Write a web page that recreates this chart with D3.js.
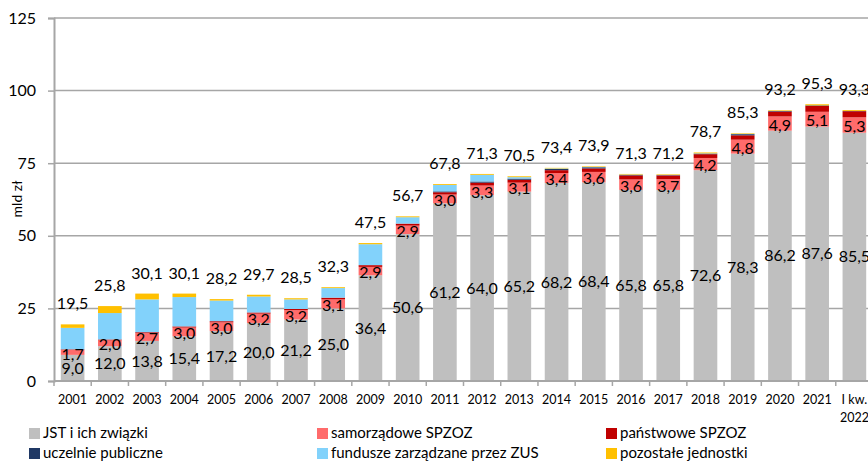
<!DOCTYPE html>
<html>
<head>
<meta charset="utf-8">
<script src="https://cdn.jsdelivr.net/npm/d3@7"></script>
<style>
  html, body { margin: 0; padding: 0; background: #fff; }
  #chart { width: 868px; height: 461px; }
  text { font-family: Lato, "Open Sans", sans-serif; fill: #000; }
</style>
</head>
<body>
<div id="chart"><svg></svg></div>
<script>
// kategorie (lata)
var categories = ["2001","2002","2003","2004","2005","2006","2007","2008","2009","2010",
  "2011","2012","2013","2014","2015","2016","2017","2018","2019","2020","2021","I kw.\n2022"];

// serie (mld zł)
var jst        = [9.0,12.0,13.8,15.4,17.2,20.0,21.2,25.0,36.4,50.6,61.2,64.0,65.2,68.2,68.4,65.8,65.8,72.6,78.3,86.2,87.6,85.5];
var samorzad   = [1.7,2.0,2.7,3.0,3.0,3.2,3.2,3.1,2.9,2.9,3.0,3.3,3.1,3.4,3.6,3.6,3.7,4.2,4.8,4.9,5.1,5.3];
var panstwowe  = [0.2,0.3,0.3,0.4,0.4,0.4,0.4,0.6,0.6,0.7,0.8,1.0,1.0,1.0,1.2,1.4,1.3,1.3,1.5,1.7,2.0,2.1];
var uczelnie   = [0,0,0,0,0,0,0,0,0,0,0.3,0.4,0.4,0.4,0.4,0.2,0.1,0.2,0.4,0.2,0.2,0.1];
var zus        = [7.4,9.1,11.3,10.1,7.1,5.5,3.3,3.3,7.2,2.2,2.2,2.3,0.5,0.2,0.1,0.1,0.1,0.1,0.1,0.0,0.0,0.0];
var pozostale  = [1.2,2.4,2.0,1.2,0.5,0.6,0.4,0.3,0.4,0.3,0.3,0.3,0.3,0.2,0.2,0.2,0.2,0.3,0.2,0.2,0.4,0.3];
var totals     = [19.5,25.8,30.1,30.1,28.2,29.7,28.5,32.3,47.5,56.7,67.8,71.3,70.5,73.4,73.9,71.3,71.2,78.7,85.3,93.2,95.3,93.3];
var yTicks     = [0,25,50,75,100,125];

var seriesNames  = ["JST i ich związki","samorządowe SPZOZ","państwowe SPZOZ","uczelnie publiczne","fundusze zarządzane przez ZUS","pozostałe jednostki"];
var seriesColors = ["#bfbfbf","#ff6b6b","#c00000","#1f3864","#82d2fb","#ffc000"];
var seriesData   = [jst, samorzad, panstwowe, uczelnie, zus, pozostale];

var W = 868, H = 461;
var L = 54, R = -5, T = 18, B = 80;

var svg = d3.select("#chart svg").attr("width", W).attr("height", H);

var x = d3.scaleBand()
    .domain(d3.range(categories.length))
    .range([L, W - R])
    .paddingInner(0.365)
    .paddingOuter(0.1825);
var y = d3.scaleLinear()
    .domain([0, 125])
    .range([H - B, T]);

var fmt = function(v) { return d3.format(".1f")(v).replace(".", ","); };

// siatka
svg.append("g")
    .selectAll("line").data(yTicks.slice(1)).enter()
    .append("line")
    .attr("x1", L).attr("x2", W)
    .attr("y1", function(d) { return y(d); })
    .attr("y2", function(d) { return y(d); })
    .attr("stroke", "#a6a6a6").attr("stroke-width", 1.5);

// dane - stos
var rows = categories.map(function(c, i) {
  var o = { i: i };
  seriesData.forEach(function(s, k) { o["s" + k] = s[i]; });
  return o;
});
var stack = d3.stack().keys(seriesNames.map(function(d, k) { return "s" + k; }));
var layers = stack(rows);

var gData = svg.append("g").attr("class", "data");
gData.selectAll("g").data(layers).enter()
  .append("g")
  .attr("fill", function(d, k) { return seriesColors[k]; })
  .selectAll("rect").data(function(d) { return d; }).enter()
  .append("rect")
  .attr("x", function(d) { return x(d.data.i); })
  .attr("width", x.bandwidth())
  .attr("y", function(d) { return y(d[1]); })
  .attr("height", function(d) { return Math.max(0, y(d[0]) - y(d[1])); });

// osie
var gyAxis = svg.append("g")
    .attr("transform", "translate(" + L + ",0)")
    .call(d3.axisLeft(y).tickValues(yTicks).tickSize(6).tickPadding(12).tickFormat(d3.format("d")));
gyAxis.select(".domain").attr("stroke", "#a6a6a6").attr("stroke-width", 2);
gyAxis.selectAll(".tick line").attr("stroke", "#a6a6a6").attr("stroke-width", 1.5);
gyAxis.selectAll(".tick text").style("font-size", "16px").style("font-family", "Lato, sans-serif").attr("fill", "#000");

var gxAxis = svg.append("g").attr("transform", "translate(0," + y(0) + ")");
gxAxis.append("line").attr("x1", L).attr("x2", W).attr("stroke", "#a6a6a6").attr("stroke-width", 2);
gxAxis.selectAll("line.tk").data(d3.range(categories.length + 1)).enter()
  .append("line")
  .attr("class", "tk")
  .attr("x1", function(i) { return L + i * x.step(); })
  .attr("x2", function(i) { return L + i * x.step(); })
  .attr("y1", 0).attr("y2", 5)
  .attr("stroke", "#a6a6a6").attr("stroke-width", 1.5);
var xt = gxAxis.selectAll("text").data(categories).enter()
  .append("text")
  .attr("text-anchor", "middle")
  .style("font-size", "12.5px")
  .attr("transform", function(d, i) { return "translate(" + (x(i) + x.bandwidth() / 2) + ",23)"; });
xt.each(function(d) {
  var parts = d.split("\n");
  d3.select(this).selectAll("tspan").data(parts).enter()
    .append("tspan").attr("x", 0).attr("dy", function(p, j) { return j ? 18 : 0; })
    .text(function(p) { return p; });
});

// tytuł osi
svg.append("text")
  .attr("transform", "translate(17,199) rotate(-90)")
  .attr("text-anchor", "middle")
  .attr("dy", "0.35em")
  .style("font-size", "14px")
  .text("mld zł");

// etykiety
var lbl = svg.append("g").style("font-size", "16px").attr("text-anchor", "middle");
lbl.selectAll("text.jst").data(jst).enter().append("text")
  .attr("x", function(d, i) { return x(i) + x.bandwidth() / 2; })
  .attr("y", function(d) { return y(d / 2); })
  .attr("dy", "0.35em")
  .text(fmt);
lbl.selectAll("text.sam").data(samorzad).enter().append("text")
  .attr("x", function(d, i) { return x(i) + x.bandwidth() / 2; })
  .attr("y", function(d, i) { return y(jst[i] + d / 2); })
  .attr("dy", "0.45em")
  .text(fmt);
lbl.selectAll("text.tot").data(totals).enter().append("text")
  .attr("x", function(d, i) { return x(i) + x.bandwidth() / 2; })
  .attr("y", function(d) { return y(d) - 15; })
  .text(fmt);

// legenda
var legX = [29, 317, 606], legY = [433, 453];
var leg = svg.append("g").selectAll("g").data(seriesNames).enter()
  .append("g")
  .attr("transform", function(d, k) { return "translate(" + legX[k % 3] + "," + legY[Math.floor(k / 3)] + ")"; });
leg.append("rect").attr("x", 0).attr("y", -5).attr("width", 11).attr("height", 11)
  .attr("fill", function(d, k) { return seriesColors[k]; });
leg.append("text").attr("x", 14).attr("dy", "0.35em").style("font-size", "15px")
  .text(function(d) { return d; });
</script>
</body>
</html>
